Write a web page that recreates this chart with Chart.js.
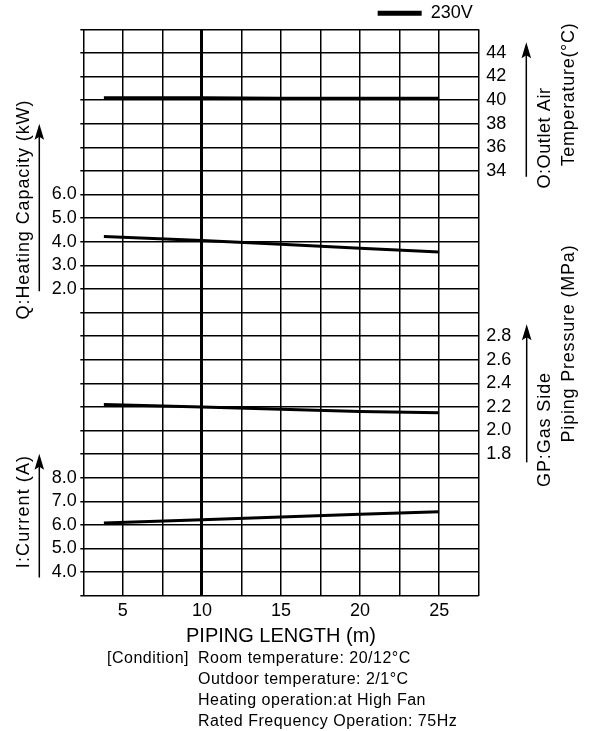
<!DOCTYPE html>
<html><head><meta charset="utf-8">
<style>html,body{margin:0;padding:0;background:#fff;} canvas{display:block;}</style>
<script src="https://cdn.jsdelivr.net/npm/chart.js@4"></script>
</head><body>
<canvas id="c" width="589" height="731"></canvas>
<script>
// ---- data ----
const PIPE_LENGTH = [3.8, 10, 15, 20, 25];
const OUTLET_TEMP = [40.2, 40.2, 40.15, 40.15, 40.15];
const HEAT_CAP    = [4.22, 4.05, 3.89, 3.72, 3.56];
const GAS_PRESS   = [2.22, 2.20, 2.18, 2.16, 2.15];
const CURRENT     = [6.08, 6.22, 6.33, 6.45, 6.56];

// ---- tick labels ----
const X_TICKS    = [5, 10, 15, 20, 25];
const CAP_TICKS  = [2, 3, 4, 5, 6];
const CUR_TICKS  = [4, 5, 6, 7, 8];
const TEMP_TICKS = [34, 36, 38, 40, 42, 44];
const PRES_TICKS = [1.8, 2.0, 2.2, 2.4, 2.6, 2.8];

// ---- texts ----
const LEGEND_LABEL = '230V';
const X_TITLE = 'PIPING LENGTH (m)';
const CONDITION_HEAD = '[Condition]';
const CONDITION_LINES = [
  'Room temperature: 20/12°C',
  'Outdoor temperature: 2/1°C',
  'Heating operation:at High Fan',
  'Rated Frequency Operation: 75Hz'
];

const FONT = "'Liberation Sans', Arial, Helvetica, sans-serif";
Chart.defaults.font.family = FONT;
Chart.defaults.color = '#000';

const pick = (list, digits) => (v) => {
  const hit = list.find(t => Math.abs(t - v) < 1e-6);
  return hit === undefined ? '' : hit.toFixed(digits);
};

const mk = (label, arr, axis) => ({
  label, yAxisID: axis, xAxisID: 'x',
  data: PIPE_LENGTH.map((x, i) => ({x, y: arr[i]})),
  borderColor: '#000', backgroundColor: '#000', borderWidth: 3,
  pointRadius: 0, pointHoverRadius: 0, tension: 0, fill: false
});

function arrow(ctx, x, yBottom, yTip) {
  ctx.beginPath();
  ctx.lineWidth = 1.5;
  ctx.moveTo(x, yBottom);
  ctx.lineTo(x, yTip + 10);
  ctx.stroke();
  ctx.beginPath();
  ctx.moveTo(x, yTip);
  ctx.lineTo(x - 4.8, yTip + 16);
  ctx.lineTo(x, yTip + 13);
  ctx.lineTo(x + 4.8, yTip + 16);
  ctx.closePath();
  ctx.fill();
}
function vtext(ctx, text, xBase, yCenter, size, spacing) {
  ctx.save();
  ctx.translate(xBase, yCenter);
  ctx.rotate(-Math.PI / 2);
  ctx.font = size + 'px ' + FONT;
  ctx.letterSpacing = spacing + 'px';
  ctx.textAlign = 'center';
  ctx.textBaseline = 'alphabetic';
  ctx.fillText(text, 0, 0);
  ctx.restore();
}

const zeroWidth = (sc) => { sc.width = 0; sc.paddingTop = 0; sc.paddingBottom = 0; };

const deco = {
  id: 'deco',
  afterLayout(chart) {
    if (chart.legend) { chart.legend.top += 3; chart.legend.bottom += 3; }
  },
  afterDraw(chart) {
    const ctx = chart.ctx, s = chart.scales;
    ctx.save();
    ctx.fillStyle = '#000'; ctx.strokeStyle = '#000';
    arrow(ctx, 39.3, s.yCap.getPixelForValue(1.9), s.yCap.getPixelForValue(9.0));
    arrow(ctx, 39.3, s.yCur.getPixelForValue(3.77), s.yCur.getPixelForValue(9.02));
    arrow(ctx, 526.3, s.yTemp.getPixelForValue(33.5), s.yTemp.getPixelForValue(44.9));
    arrow(ctx, 526.7, s.yPres.getPixelForValue(1.73), s.yPres.getPixelForValue(2.9));

    vtext(ctx, 'Q:Heating Capacity (kW)', 28.5, 209.5, 18, 0.9);
    vtext(ctx, 'I:Current (A)', 28.5, 511.5, 18, 1.1);
    vtext(ctx, 'O:Outlet Air', 550, 138, 18, 0.6);
    vtext(ctx, 'Temperature(°C)', 574, 94.5, 18, 0.7);
    vtext(ctx, 'GP:Gas Side', 550, 429.5, 18, 0.9);
    vtext(ctx, 'Piping Pressure (MPa)', 573.5, 343.5, 18, 0.8);

    ctx.font = '16px ' + FONT;
    ctx.letterSpacing = '0.5px';
    ctx.textAlign = 'left';
    ctx.textBaseline = 'middle';
    ctx.fillText(CONDITION_HEAD, 107, 658.5);
    CONDITION_LINES.forEach((t, i) => ctx.fillText(t, 198, 658.5 + i * 21));
    ctx.restore();
  }
};

new Chart(document.getElementById('c'), {
  type: 'line',
  data: {
    datasets: [
      mk('O:Outlet Air Temperature', OUTLET_TEMP, 'yTemp'),
      mk('Q:Heating Capacity', HEAT_CAP, 'yCap'),
      mk('GP:Gas Side Piping Pressure', GAS_PRESS, 'yPres'),
      mk('I:Current', CURRENT, 'yCur')
    ]
  },
  options: {
    responsive: false,
    animation: false,
    events: [],
    layout: { padding: { top: -4.7, left: 0, right: 0, bottom: 82.5 } },
    plugins: {
      tooltip: { enabled: false },
      legend: {
        display: true, position: 'top', align: 'end', fullSize: false,
        labels: {
          boxWidth: 44, boxHeight: 5, padding: 6,
          font: { size: 18 }, color: '#000',
          generateLabels: () => [{ text: LEGEND_LABEL, fillStyle: '#000', strokeStyle: '#000', lineWidth: 0, hidden: false, datasetIndex: 0 }]
        }
      }
    },
    scales: {
      x: {
        type: 'linear', position: 'bottom', min: 2.5, max: 27.5,
        afterFit: (sc) => { sc.height = 52.8; },
        ticks: { stepSize: 2.5, autoSkip: false, maxRotation: 0, padding: 5, font: { size: 18 }, color: '#000',
                 callback: pick(X_TICKS, 0) },
        grid: { color: '#000', drawTicks: false,
                lineWidth: (c) => (c.tick && c.tick.value === 10) ? 3 : 1.5 },
        border: { display: false },
        title: { display: true, text: X_TITLE, font: { size: 20 }, color: '#000', padding: { top: 0, bottom: 0 } }
      },
      yCap: {
        type: 'linear', position: 'left', weight: 1, min: -11, max: 13,
        afterFit: (sc) => { sc.width = 83.3; },
        ticks: { stepSize: 1, autoSkip: false, padding: 3.5, font: { size: 18 }, color: '#000', callback: pick(CAP_TICKS, 1) },
        grid: { color: '#000', lineWidth: 1.5, drawTicks: true, tickLength: 3 },
        border: { display: false }
      },
      yCur: {
        type: 'linear', position: 'left', weight: 0, min: 3, max: 27,
        afterFit: zeroWidth,
        ticks: { stepSize: 1, autoSkip: false, mirror: true, crossAlign: 'near', padding: -31.6, font: { size: 18 }, color: '#000', callback: pick(CUR_TICKS, 1) },
        grid: { display: false, drawTicks: false },
        border: { display: false }
      },
      yTemp: {
        type: 'linear', position: 'right', weight: 1, min: -2, max: 46,
        afterFit: (sc) => { sc.width = 110.3; },
        ticks: { stepSize: 2, autoSkip: false, padding: 7.5, font: { size: 18 }, color: '#000', callback: pick(TEMP_TICKS, 0) },
        grid: { display: false, drawTicks: false },
        border: { display: false }
      },
      yPres: {
        type: 'linear', position: 'right', weight: 0, min: 0.6, max: 5.4,
        afterFit: zeroWidth,
        ticks: { stepSize: 0.2, autoSkip: false, mirror: true, crossAlign: 'near', padding: 32.5, font: { size: 18 }, color: '#000', callback: pick(PRES_TICKS, 1) },
        grid: { display: false, drawTicks: false },
        border: { display: false }
      }
    }
  },
  plugins: [deco]
});
</script>
</body></html>
